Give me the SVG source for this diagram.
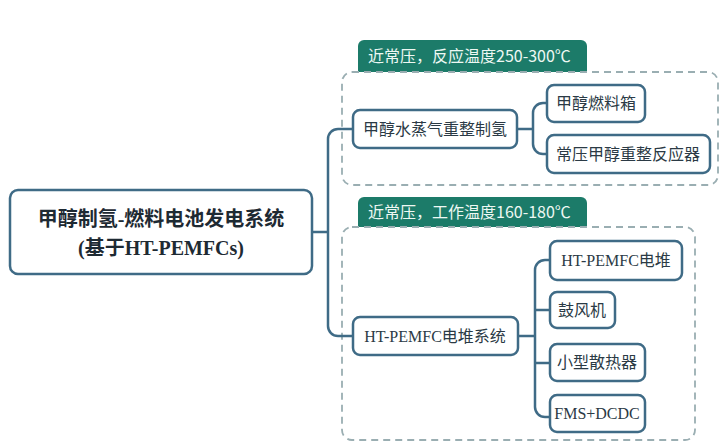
<svg xmlns="http://www.w3.org/2000/svg" width="721" height="442" viewBox="0 0 721 442">
<style>
.node{fill:#ffffff;stroke:#3f6b86;stroke-width:2.5}
.grp{fill:none;stroke:#9aaeb2;stroke-width:1.8;stroke-dasharray:7 5}
.tab{fill:#1c7b69}
.tabt{fill:#eef8f3;font-family:"Noto Sans CJK SC","Noto Sans",sans-serif;font-size:16px}
.t{fill:#2b3a45;font-family:"Liberation Serif","Noto Sans CJK SC",serif;font-size:16px}
.main{fill:#1e2a33;font-family:"Liberation Serif","Noto Sans CJK SC",serif;font-size:20px;font-weight:bold}
.c{fill:none;stroke:#3f6b86;stroke-width:2.5;stroke-linejoin:round}
</style>
<rect width="721" height="442" fill="#ffffff"/>
<g id="group-reforming">
<path class="tab" d="M358,72 V46 a6,6 0 0 1 6,-6 H581 a6,6 0 0 1 6,6 V72 Z"/>
<text class="tabt" x="368" y="62">近常压，反应温度250-300℃</text>
<rect class="grp" x="342" y="72" width="376" height="113" rx="10"/>
</g>
<g id="group-stack">
<path class="tab" d="M358,227 V203 a6,6 0 0 1 6,-6 H581 a6,6 0 0 1 6,6 V227 Z"/>
<text class="tabt" x="368" y="218">近常压，工作温度160-180℃</text>
<rect class="grp" x="342" y="227" width="353" height="213" rx="10"/>
</g>
<g id="connectors">
<path class="c" d="M312,232 H328 M353,129 H338 a10,10 0 0 0 -10,10 V326 a10,10 0 0 0 10,10 H353"/>
<path class="c" d="M517,129 H533 M547,103 H543 a10,10 0 0 0 -10,10 V144 a10,10 0 0 0 10,10 H547"/>
<path class="c" d="M518,336 H535 M550,260 H545 a10,10 0 0 0 -10,10 V407 a10,10 0 0 0 10,10 H550 M535,310 H550 M535,363 H550"/>
</g>
<g id="node-main">
<rect class="node" x="10" y="190" width="302" height="84" rx="8"/>
<text class="main" x="161" y="226" text-anchor="middle">甲醇制氢-燃料电池发电系统</text>
<text class="main" x="161" y="255" text-anchor="middle">(基于HT-PEMFCs)</text>
</g>
<g id="node-reforming">
<rect class="node" x="353" y="110" width="164" height="38" rx="7"/>
<text class="t" x="435" y="135" text-anchor="middle">甲醇水蒸气重整制氢</text>
</g>
<g id="node-tank">
<rect class="node" x="547" y="85" width="98" height="37" rx="7"/>
<text class="t" x="596" y="109" text-anchor="middle">甲醇燃料箱</text>
</g>
<g id="node-reactor">
<rect class="node" x="547" y="135" width="163" height="38" rx="7"/>
<text class="t" x="628" y="160" text-anchor="middle">常压甲醇重整反应器</text>
</g>
<g id="node-stacksys">
<rect class="node" x="353" y="317" width="165" height="38" rx="7"/>
<text class="t" x="435" y="342" text-anchor="middle">HT-PEMFC电堆系统</text>
</g>
<g id="node-stack">
<rect class="node" x="550" y="241" width="132" height="39" rx="7"/>
<text class="t" x="616" y="266" text-anchor="middle">HT-PEMFC电堆</text>
</g>
<g id="node-blower">
<rect class="node" x="550" y="292" width="65" height="36" rx="7"/>
<text class="t" x="582" y="316" text-anchor="middle">鼓风机</text>
</g>
<g id="node-radiator">
<rect class="node" x="550" y="344" width="95" height="37" rx="7"/>
<text class="t" x="597" y="368" text-anchor="middle">小型散热器</text>
</g>
<g id="node-fms">
<rect class="node" x="550" y="395" width="95" height="37" rx="7"/>
<text class="t" x="597" y="419" text-anchor="middle">FMS+DCDC</text>
</g>
</svg>
